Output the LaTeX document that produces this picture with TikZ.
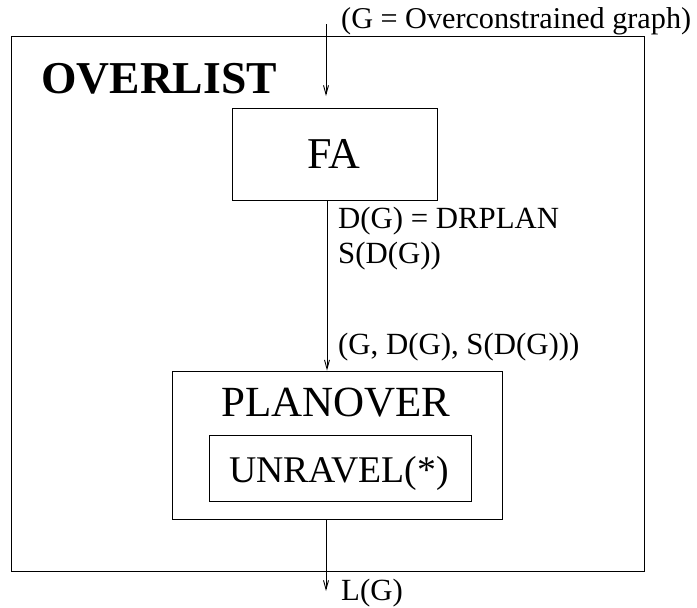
\documentclass[tikz,border=0pt]{standalone}
\usepackage{fontspec}
\setmainfont{Liberation Serif}
\usetikzlibrary{arrows.meta}
\begin{document}
\begin{tikzpicture}[x=1pt,y=-1pt,
  box/.style={draw,line width=0.9pt,inner sep=0pt,minimum width=#1},
  flow/.style={draw,line width=0.9pt,-{Straight Barb[length=9pt,width=5pt,line width=0.9pt]}},
  lbl/.style={font=\fontsize{30.8}{34}\selectfont,inner sep=0pt,anchor=base west},
  big/.style={inner sep=0pt,anchor=base}]
\useasboundingbox (0,0) rectangle (697,608);
% outer procedure frame
\node[box=633pt,minimum height=535pt] (overlist) at (327.5,303.5) {};
\node[inner sep=0pt,anchor=base west,font=\fontsize{45.6}{50}\selectfont\bfseries] (title) at (41,93) {OVERLIST};
% FA block
\node[box=205pt,minimum height=92pt] (fa) at (334.5,154) {};
\node[big,font=\fontsize{44}{48}\selectfont] (fatext) at (333.5,168) {FA};
% PLANOVER block with nested UNRAVEL
\node[box=330pt,minimum height=148pt] (planover) at (337,445) {};
\node[big,font=\fontsize{43}{47}\selectfont] (planovertext) at (336,416) {PLANOVER};
\node[box=262pt,minimum height=66pt] (unravel) at (340,468) {};
\node[big,font=\fontsize{37.7}{42}\selectfont] (unraveltext) at (339,482) {UNRAVEL(*)};
% data flow
\coordinate (in) at (326,24);
\coordinate (intip) at (326,96);
\coordinate (out) at (326,591);
\node[lbl,font=\fontsize{30.2}{34}\selectfont] (glabel) at (341,28) {(G = Overconstrained graph)};
\node[lbl] (dlabel) at (338,228) {D(G) = DRPLAN};
\node[lbl] (slabel) at (338,263) {S(D(G))};
\node[lbl] (tlabel) at (338,354) {(G, D(G), S(D(G)))};
\node[lbl] (llabel) at (341,600) {L(G)};
\draw[flow] (in) -- (intip);
\draw[flow] (fa.south -| 327,0) -- (planover.north -| 327,0);
\draw[flow] (planover.south -| out) -- (out);
\end{tikzpicture}
\end{document}
